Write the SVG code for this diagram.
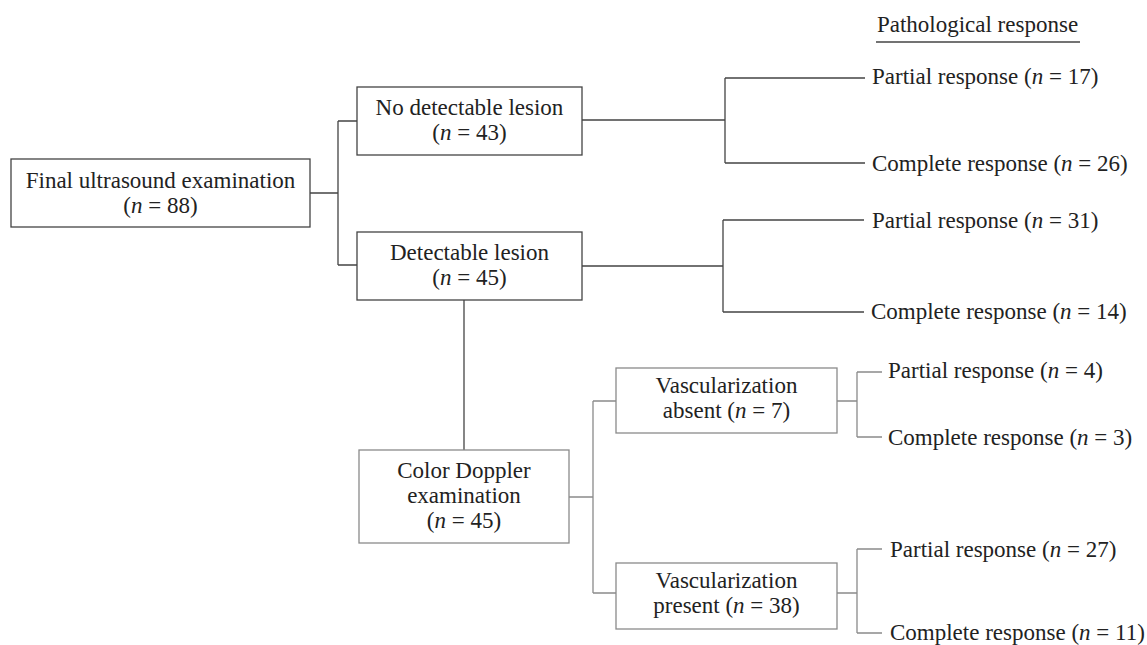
<svg xmlns="http://www.w3.org/2000/svg" width="1147" height="645" viewBox="0 0 1147 645">
<style>
text{font-family:"Liberation Serif","Times New Roman",serif;font-size:23px;fill:#222}
.c{text-anchor:middle}
.i{font-style:italic}
.box{fill:#fff;stroke:#444;stroke-width:1.3}
.gbox{fill:#fff;stroke:#8a8a8a;stroke-width:1.3}
.ln{fill:none;stroke:#444;stroke-width:1.3}
.gln{fill:none;stroke:#8a8a8a;stroke-width:1.3}
</style>
<rect width="1147" height="645" fill="#fff"/>
<g id="connectors">
<path class="ln" d="M310,193H338M338,121V265M338,121H357M338,265H357"/>
<path class="ln" d="M582,120H725M725,78V163M725,78H865M725,163H865"/>
<path class="ln" d="M582,266H723M723,220V312M723,220H864M723,312H864"/>
<path class="ln" d="M464,300V450"/>
<path class="gln" d="M569,497H593M593,401V593M593,401H616M593,593H616"/>
<path class="gln" d="M837,401H857M857,372V437M857,372H882M857,437H882"/>
<path class="gln" d="M837,593H857M857,549V633M857,549H882M857,633H882"/>
<path class="ln" d="M876,42H1080"/>
</g>
<g id="header"><text class="c" x="977.5" y="32">Pathological response</text></g>
<g id="final">
<rect class="box" x="11" y="159" width="299" height="68"/>
<text class="c" x="160.5" y="188">Final ultrasound examination</text>
<text class="c" x="160.5" y="213">(<tspan class="i">n</tspan> = 88)</text>
</g>
<g id="nolesion">
<rect class="box" x="357" y="87" width="225" height="68"/>
<text class="c" x="469.5" y="115">No detectable lesion</text>
<text class="c" x="469.5" y="140">(<tspan class="i">n</tspan> = 43)</text>
</g>
<g id="lesion">
<rect class="box" x="357" y="232" width="225" height="68"/>
<text class="c" x="469.5" y="260">Detectable lesion</text>
<text class="c" x="469.5" y="285">(<tspan class="i">n</tspan> = 45)</text>
</g>
<g id="doppler">
<rect class="gbox" x="359" y="450" width="210" height="93"/>
<text class="c" x="464" y="478">Color Doppler</text>
<text class="c" x="464" y="503">examination</text>
<text class="c" x="464" y="528">(<tspan class="i">n</tspan> = 45)</text>
</g>
<g id="vabsent">
<rect class="gbox" x="616" y="368" width="221" height="65"/>
<text class="c" x="726.5" y="393">Vascularization</text>
<text class="c" x="726.5" y="418">absent (<tspan class="i">n</tspan> = 7)</text>
</g>
<g id="vpresent">
<rect class="gbox" x="616" y="563" width="221" height="66"/>
<text class="c" x="726.5" y="588">Vascularization</text>
<text class="c" x="726.5" y="613">present (<tspan class="i">n</tspan> = 38)</text>
</g>
<g id="pr17"><text x="872" y="84">Partial response (<tspan class="i">n</tspan> = 17)</text></g>
<g id="cr26"><text x="872" y="171">Complete response (<tspan class="i">n</tspan> = 26)</text></g>
<g id="pr31"><text x="872" y="228">Partial response (<tspan class="i">n</tspan> = 31)</text></g>
<g id="cr14"><text x="871" y="319">Complete response (<tspan class="i">n</tspan> = 14)</text></g>
<g id="pr4"><text x="888" y="378">Partial response (<tspan class="i">n</tspan> = 4)</text></g>
<g id="cr3"><text x="888" y="445">Complete response (<tspan class="i">n</tspan> = 3)</text></g>
<g id="pr27"><text x="890" y="557">Partial response (<tspan class="i">n</tspan> = 27)</text></g>
<g id="cr11"><text x="890" y="640">Complete response (<tspan class="i">n</tspan> = 11)</text></g>
</svg>
